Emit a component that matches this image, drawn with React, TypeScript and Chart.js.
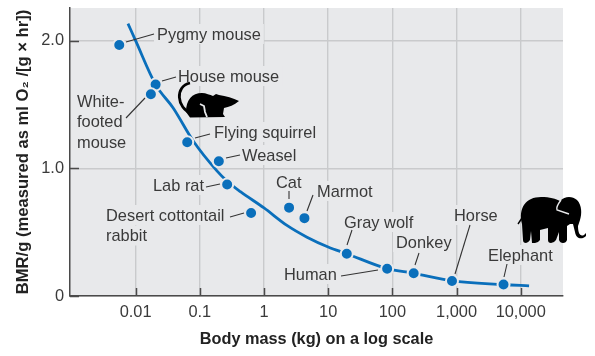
import React, { useEffect, useRef } from "react";
import { Chart, registerables } from "chart.js";

Chart.register(...registerables);

const animals = ["Pygmy mouse", "House mouse", "White-footed mouse", "Flying squirrel", "Weasel", "Lab rat", "Desert cottontail rabbit", "Cat", "Marmot", "Gray wolf", "Human", "Donkey", "Horse", "Elephant"];
const massKg = [0.00556, 0.0205, 0.0173, 0.0637, 0.198, 0.267, 0.63, 2.46, 4.27, 19.5, 83, 215, 850, 5400];
const bmr = [1.966, 1.656, 1.58, 1.204, 1.056, 0.874, 0.65, 0.692, 0.61, 0.331, 0.214, 0.178, 0.118, 0.09];

const curveMass = [0.0076, 0.01, 0.0205, 0.0385, 0.08, 0.185, 0.267, 0.43, 1, 2.28, 4.68, 10, 19.5, 83, 215, 850, 5400, 13500];
const curveBmr = [2.134, 2.0, 1.656, 1.473, 1.21, 0.98, 0.899, 0.817, 0.69, 0.553, 0.461, 0.384, 0.331, 0.214, 0.178, 0.118, 0.09, 0.08];

const xTickValues = [0.01, 0.1, 1, 10, 100, 1000, 10000];
const xTickLabels = ["0.01", "0.1", "1", "10", "100", "1,000", "10,000"];
const yTickValues = [0, 1, 2];
const yTickLabels = ["0", "1.0", "2.0"];
const xTitle = "Body mass (kg) on a log scale";
const yTitle = "BMR/g (measured as ml O\u2082 /[g \u00d7 hr])";

const BG = "#e8e9eb";
const GRID = "#c9cacc";
const BLUE = "#0a6fbb";
const TEXT = "#3a3a3a";
const AXIS = "#4a4a4a";
const FONT = '"Liberation Sans", Arial, sans-serif';
const LABEL_FONT = `16.4px ${FONT}`;
const LINE_GAP = 20.5;

// Label placement, in canvas pixels, kept apart from the data (y is the text centre).
type Note = { lines: string[]; x: number; y: number; leader: number[] };
const notes: Note[] = [
  { lines: ["Pygmy mouse"], x: 157, y: 34, leader: [126, 42, 154, 34] },
  { lines: ["House mouse"], x: 178, y: 76, leader: [162, 81, 176, 77] },
  { lines: ["White-", "footed", "mouse"], x: 77, y: 101, leader: [145, 98, 126, 118] },
  { lines: ["Flying squirrel"], x: 214, y: 132, leader: [195, 138, 210, 134] },
  { lines: ["Weasel"], x: 242, y: 155, leader: [226, 158, 240, 155] },
  { lines: ["Lab rat"], x: 153, y: 185, leader: [206, 187, 220, 184] },
  { lines: ["Desert cottontail", "rabbit"], x: 106, y: 215, leader: [230, 217, 244, 213] },
  { lines: ["Cat"], x: 276, y: 182, leader: [289, 191, 289, 199] },
  { lines: ["Marmot"], x: 317, y: 191, leader: [313, 195, 307, 211] },
  { lines: ["Gray wolf"], x: 344, y: 222, leader: [352, 230, 347, 245] },
  { lines: ["Human"], x: 284, y: 274, leader: [341, 276, 378, 270] },
  { lines: ["Donkey"], x: 396, y: 242, leader: [419, 253, 415, 265] },
  { lines: ["Horse"], x: 454, y: 215, leader: [470, 225, 455, 274] },
  { lines: ["Elephant"], x: 488, y: 255, leader: [507, 264, 504, 277] },
];

function drawMouse(c: CanvasRenderingContext2D) {
  c.save();
  c.fillStyle = "#000";
  c.strokeStyle = "#000";
  c.lineWidth = 2.8;
  c.beginPath();
  c.moveTo(192, 114);
  c.bezierCurveTo(176, 108, 175, 86, 190, 83);
  c.stroke();
  c.beginPath();
  c.moveTo(186, 112);
  c.bezierCurveTo(186, 100, 192, 93, 202, 93);
  c.bezierCurveTo(206, 93, 210, 95, 213, 96);
  c.lineTo(216, 94);
  c.lineTo(219, 95);
  c.bezierCurveTo(226, 96, 233, 98, 239, 101);
  c.bezierCurveTo(234, 105, 229, 107, 224, 108);
  c.lineTo(223, 114);
  c.lineTo(225, 117);
  c.lineTo(190, 117.5);
  c.closePath();
  c.fill();
  // white notch that separates the hind leg
  c.strokeStyle = BG;
  c.lineWidth = 1.8;
  c.beginPath();
  c.moveTo(200, 104);
  c.lineTo(204, 106);
  c.lineTo(205, 112);
  c.lineTo(207, 117);
  c.stroke();
  c.restore();
}

function drawElephant(c: CanvasRenderingContext2D) {
  c.save();
  c.fillStyle = "#000";
  c.strokeStyle = "#000";
  c.beginPath();
  c.moveTo(522, 224);
  c.bezierCurveTo(518, 208, 526, 197, 541, 197);
  c.bezierCurveTo(550, 197, 556, 199, 560, 201);
  c.bezierCurveTo(565, 196, 572, 196, 577, 200);
  c.bezierCurveTo(582, 205, 582, 214, 580, 220);
  c.lineTo(578, 226);
  c.bezierCurveTo(578, 233, 580, 237, 584, 235);
  c.lineTo(586, 233);
  c.lineTo(586, 236);
  c.bezierCurveTo(582, 240, 576, 239, 575, 232);
  c.lineTo(573, 224);
  c.lineTo(570, 224);
  c.lineTo(567, 226);
  c.lineTo(567, 240);
  c.quadraticCurveTo(566, 243, 563, 243);
  c.quadraticCurveTo(560, 243, 559, 240);
  c.lineTo(559, 232);
  c.lineTo(556, 240);
  c.quadraticCurveTo(554, 243, 551, 243);
  c.quadraticCurveTo(548, 243, 548, 240);
  c.lineTo(548, 228);
  c.lineTo(540, 230);
  c.lineTo(540, 240);
  c.quadraticCurveTo(538, 243, 535, 243);
  c.lineTo(532, 243);
  c.lineTo(531, 231);
  c.lineTo(530, 240);
  c.quadraticCurveTo(528, 243, 526, 243);
  c.quadraticCurveTo(523, 243, 523, 240);
  c.closePath();
  c.fill();
  c.beginPath();
  c.moveTo(522, 218);
  c.lineTo(518, 224);
  c.lineWidth = 1.4;
  c.stroke();
  c.strokeStyle = BG;
  c.lineWidth = 1.4;
  c.beginPath();
  c.moveTo(561, 200);
  c.bezierCurveTo(558, 204, 556, 208, 557, 210);
  c.lineTo(569, 214);
  c.stroke();
  c.restore();
}

const decorations = {
  id: "decorations",
  beforeDraw(chart: any) {
    const c: CanvasRenderingContext2D = chart.ctx;
    const a = chart.chartArea;
    c.save();
    c.fillStyle = "#ffffff";
    c.fillRect(0, 0, chart.width, chart.height);
    c.fillStyle = BG;
    c.fillRect(a.left, a.top, a.right - a.left, a.bottom - a.top);
    c.restore();
  },
  beforeDatasetsDraw(chart: any) {
    const c: CanvasRenderingContext2D = chart.ctx;
    const x = chart.scales.x;
    const y = chart.scales.y;
    const a = chart.chartArea;
    c.save();
    c.font = LABEL_FONT;
    c.fillStyle = BG;
    for (const n of notes) {
      n.lines.forEach((line, i) => {
        const w = c.measureText(line).width;
        c.fillRect(n.x - 3, n.y - 10 + i * LINE_GAP, w + 6, 20);
      });
    }
    c.strokeStyle = AXIS;
    c.lineWidth = 1.5;
    c.beginPath();
    for (const v of xTickValues) {
      const px = Math.round(x.getPixelForValue(v)) + 0.5;
      c.moveTo(px, a.bottom);
      c.lineTo(px, a.bottom - 8);
    }
    for (const v of yTickValues) {
      const py = Math.round(y.getPixelForValue(v)) + 0.5;
      c.moveTo(a.left, py);
      c.lineTo(a.left + 9, py);
    }
    c.stroke();
    c.restore();
  },
  afterDatasetsDraw(chart: any) {
    const c: CanvasRenderingContext2D = chart.ctx;
    c.save();
    c.lineWidth = 1.1;
    c.strokeStyle = "#333";
    for (const n of notes) {
      const [a, b, d, e] = n.leader;
      c.beginPath();
      c.moveTo(a, b);
      c.lineTo(d, e);
      c.stroke();
    }
    c.font = LABEL_FONT;
    c.fillStyle = TEXT;
    c.textBaseline = "alphabetic";
    for (const n of notes) {
      n.lines.forEach((line, i) => c.fillText(line, n.x, n.y + 5.5 + i * LINE_GAP));
    }
    drawMouse(c);
    drawElephant(c);
    c.restore();
  },
};

export default function App() {
  const ref = useRef<HTMLCanvasElement | null>(null);
  useEffect(() => {
    const points = massKg.map((m, i) => ({ x: m, y: bmr[i], name: animals[i] }));
    const chart = new Chart(ref.current as HTMLCanvasElement, {
      type: "scatter",
      data: {
        datasets: [
          {
            label: "Curve",
            data: curveMass.map((m, i) => ({ x: m, y: curveBmr[i] })),
            showLine: true,
            cubicInterpolationMode: "monotone",
            borderColor: BLUE,
            borderWidth: 2.8,
            pointRadius: 0,
            order: 2,
          },
          {
            label: "Species",
            data: points,
            showLine: false,
            backgroundColor: BLUE,
            borderColor: BG,
            borderWidth: 2,
            pointRadius: 6,
            order: 1,
          },
        ],
      } as any,
      plugins: [decorations as any],
      options: {
        responsive: false,
        animation: false,
        clip: false,
        layout: { padding: { left: 0, right: 32, top: 6, bottom: 0 } },
        plugins: { legend: { display: false }, tooltip: { enabled: false }, title: { display: false } },
        scales: {
          x: {
            type: "logarithmic",
            min: 0.00095,
            max: 45600,
            afterBuildTicks(s: any) {
              s.ticks = xTickValues.map((value) => ({ value }));
            },
            afterFit(s: any) {
              s.height = 60;
              s.paddingLeft = 0;
              s.paddingRight = 0;
            },
            ticks: {
              autoSkip: false,
              maxRotation: 0,
              padding: 7,
              color: TEXT,
              font: { family: FONT, size: 16.4 },
              callback: (v: any) => xTickLabels[xTickValues.indexOf(Number(v))] ?? "",
            },
            grid: { color: GRID, lineWidth: 1.4, drawTicks: false },
            border: { color: AXIS, width: 1.5 },
            title: {
              display: true,
              text: xTitle,
              color: "#222",
              padding: { top: 0, bottom: 7 },
              font: { family: FONT, size: 16.3, weight: "bold" },
            },
          },
          y: {
            min: 0,
            max: 2.256,
            afterBuildTicks(s: any) {
              s.ticks = yTickValues.map((value) => ({ value }));
            },
            afterFit(s: any) {
              s.width = 70;
              s.paddingTop = 0;
              s.paddingBottom = 0;
            },
            ticks: {
              padding: 6,
              color: TEXT,
              font: { family: FONT, size: 16.4 },
              callback: (v: any) => yTickLabels[yTickValues.indexOf(Number(v))] ?? "",
            },
            grid: { color: GRID, lineWidth: 1.4, drawTicks: false },
            border: { color: AXIS, width: 1.5 },
            title: {
              display: true,
              text: yTitle,
              color: "#222",
              padding: { top: 13, bottom: 0 },
              font: { family: FONT, size: 16.6, weight: "bold" },
            },
          },
        },
      },
    } as any);
    return () => chart.destroy();
  }, []);
  return (
    <div style={{ position: "fixed", left: 0, top: 0, width: 595, height: 356, background: "#fff" }}>
      <canvas ref={ref} width={595} height={356} style={{ display: "block" }} />
    </div>
  );
}
